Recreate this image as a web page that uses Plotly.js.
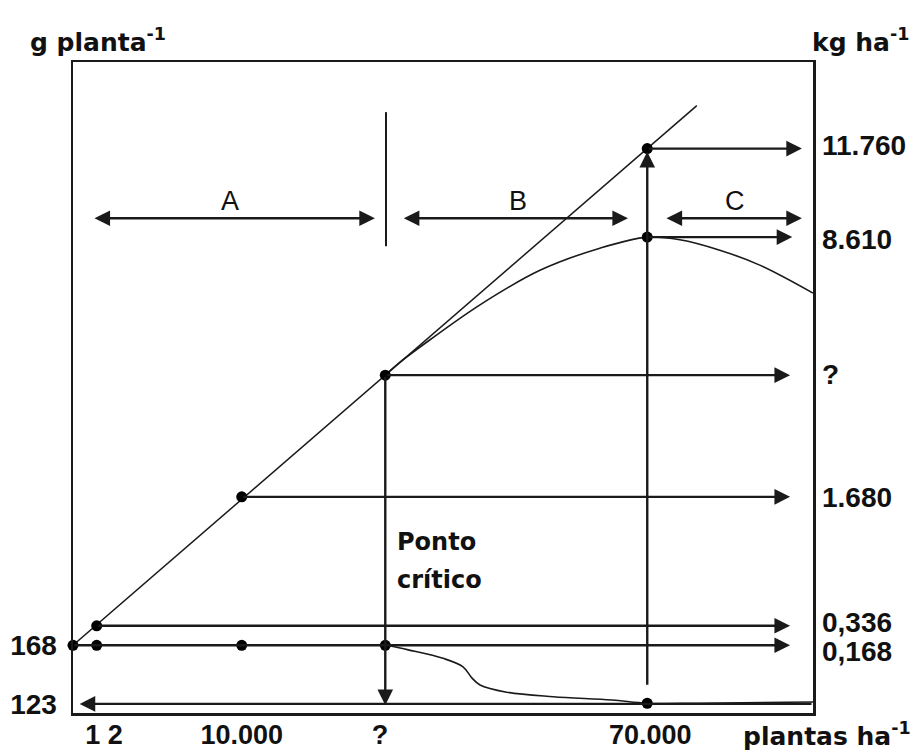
<!DOCTYPE html>
<html>
<head>
<meta charset="utf-8">
<script src="https://cdn.plot.ly/plotly-3.0.1.min.js"></script>
<style>html,body{margin:0;padding:0;background:#fff;}#chart{width:913px;height:751px;}</style>
</head>
<body>
<div id="chart"></div>
<script>
// Schematic positions (abstract units 0-100 on both axes)
const densityLabels = ['1 2', '10.000', '?', '70.000'];
const densityPos = [4.2, 22.8, 41.5, 78.0];

const perPlantLabels = ['168', '123'];
const perPlantPos = [10.4, 1.4];

const perHaLabels = ['11.760', '8.610', '?', '1.680', '0,336', '0,168'];
const perHaLabelPos = [87.2, 72.8, 52.1, 33.2, 14.0, 9.5];
const perHaLevel = [86.7, 73.1, 51.9, 33.2, 13.4, 10.4];
const perHaFrom = [77.6, 77.6, 42.2, 22.8, 3.2, 0];
const perHaTo = [98.5, 97.2, 96.9, 96.9, 96.9, 96.9];

// potential (linear) yield line
const potentialX = [0, 84.3];
const potentialY = [10.4, 93.3];

// actual yield per hectare curve
const yieldX = [42.2, 44.2, 48.2, 55.0, 63.1, 71.2, 77.6, 82.0, 87.4, 92.8, 100];
const yieldY = [51.9, 53.9, 57.3, 62.7, 68.0, 71.4, 73.1, 72.7, 71.1, 68.8, 64.5];

// yield per plant curve
const perPlantX = [42.4, 45.3, 50.0, 52.7, 53.9, 55.0, 58.6, 64.9, 72.8, 77.6, 84.7, 100];
const perPlantY = [10.4, 9.7, 8.4, 7.1, 5.4, 4.3, 3.2, 2.5, 2.0, 1.5, 1.5, 1.7];

// dots
const dotX = [0, 3.2, 3.2, 22.8, 22.8, 42.2, 42.2, 77.6, 77.6, 77.6];
const dotY = [10.4, 13.4, 10.4, 33.2, 10.4, 51.9, 10.4, 86.7, 73.1, 1.5];

// zone arrows
const zoneLabels = ['A', 'B', 'C'];
const zoneFrom = [2.7, 44.5, 80.0];
const zoneTo = [40.8, 75.0, 98.5];
const zoneLabelX = [21.2, 60.1, 89.5];
const zoneY = 76.0;
const zoneLabelY = 78.6;

const numFont = {family: 'Liberation Sans, Arial, sans-serif', size: 28, weight: 'bold', color: '#111'};
const xNumFont = {family: 'Liberation Sans, Arial, sans-serif', size: 27, weight: 'bold', color: '#111'};
const wordFont = {family: 'DejaVu Sans, Verdana, sans-serif', size: 25, weight: 'bold', color: '#111'};
const ink = '#1a1a1a';

const traces = [
  {x: potentialX, y: potentialY, mode: 'lines', line: {color: ink, width: 1.5}, hoverinfo: 'skip'},
  {x: yieldX, y: yieldY, mode: 'lines', line: {color: ink, width: 1.6, shape: 'spline'}, hoverinfo: 'skip'},
  {x: perPlantX, y: perPlantY, mode: 'lines', line: {color: ink, width: 1.6, shape: 'spline'}, hoverinfo: 'skip'},
  {x: [42.3, 42.3], y: [92.3, 71.7], mode: 'lines', line: {color: ink, width: 2}, hoverinfo: 'skip'},
  {x: dotX, y: dotY, mode: 'markers', marker: {color: '#000', size: 11}, cliponaxis: false, hoverinfo: 'skip'},
  {x: [0], y: [0], yaxis: 'y2', mode: 'markers', marker: {opacity: 0}, hoverinfo: 'skip'}
];

const annotations = [];
function arrow(x0, y0, x1, y1, both) {
  annotations.push({
    x: x1, y: y1, ax: x0, ay: y0, xref: 'x', yref: 'y', axref: 'x', ayref: 'y',
    text: '', showarrow: true, arrowhead: 2, arrowsize: 1.3, arrowwidth: 2.4,
    arrowcolor: ink, arrowside: both ? 'end+start' : 'end', standoff: 0, startstandoff: 0
  });
}
for (let i = 0; i < perHaLevel.length; i++) {
  arrow(perHaFrom[i], perHaLevel[i], perHaTo[i], perHaLevel[i], false);
}
arrow(100, 1.4, 0.9, 1.4, false);
arrow(42.2, 51.9, 42.2, 1.2, false);
arrow(77.6, 4.1, 77.6, 86.2, false);
for (let i = 0; i < zoneLabels.length; i++) {
  arrow(zoneFrom[i], zoneY, zoneTo[i], zoneY, true);
  annotations.push({x: zoneLabelX[i], y: zoneLabelY, xref: 'x', yref: 'y', text: zoneLabels[i],
    showarrow: false, font: {family: 'Liberation Sans, Arial, sans-serif', size: 27, color: '#111'}});
}
const pontoFont = {family: 'DejaVu Sans, Verdana, sans-serif', size: 24, weight: 'bold', color: '#111'};
annotations.push({x: 43.5, y: 26.2, xref: 'x', yref: 'y', xanchor: 'left', yanchor: 'middle',
  text: 'Ponto', showarrow: false, font: pontoFont});
annotations.push({x: 43.5, y: 20.4, xref: 'x', yref: 'y', xanchor: 'left', yanchor: 'middle',
  text: 'crítico', showarrow: false, font: pontoFont});

// labels placed by pixel position, converted to paper fractions below
const pixelLabels = [
  {x: 28, y: 40, text: 'g planta<sup>-1</sup>'},
  {x: 810, y: 40, text: 'kg ha<sup>-1</sup>'},
  {x: 741, y: 734, text: 'plantas ha<sup>-1</sup>'}
];
const W = 913, H = 751, ML = 73, MR = 100, MT = 62, MB = 38;
const PW = W - ML - MR, PH = H - MT - MB;
pixelLabels.forEach(p => {
  annotations.push({x: (p.x - ML) / PW, y: (H - MB - p.y) / PH, xref: 'paper', yref: 'paper',
    xanchor: 'left', yanchor: 'middle', text: p.text, showarrow: false, font: wordFont});
});

const axisBase = {range: [0, 100], showgrid: false, zeroline: false, fixedrange: true,
  ticks: '', ticklen: 0, tickfont: numFont};

const layout = {
  width: W, height: H,
  margin: {l: ML, r: MR, t: MT, b: MB, pad: 0},
  paper_bgcolor: '#fff', plot_bgcolor: '#fff',
  showlegend: false,
  xaxis: Object.assign({}, axisBase, {showline: true, mirror: true, linecolor: ink, linewidth: 2.5,
    tickmode: 'array', tickvals: densityPos, ticktext: densityLabels, ticklabelstandoff: -4,
    tickfont: xNumFont}),
  yaxis: Object.assign({}, axisBase, {showline: true, mirror: true, linecolor: ink, linewidth: 2.5,
    tickmode: 'array', tickvals: perPlantPos, ticktext: perPlantLabels, ticklabelstandoff: 8}),
  yaxis2: Object.assign({}, axisBase, {overlaying: 'y', side: 'right', showline: false,
    tickmode: 'array', tickvals: perHaLabelPos, ticktext: perHaLabels, ticklabelstandoff: 8}),
  annotations: annotations
};

Plotly.newPlot('chart', traces, layout, {displayModeBar: false, staticPlot: true});
</script>
</body>
</html>
